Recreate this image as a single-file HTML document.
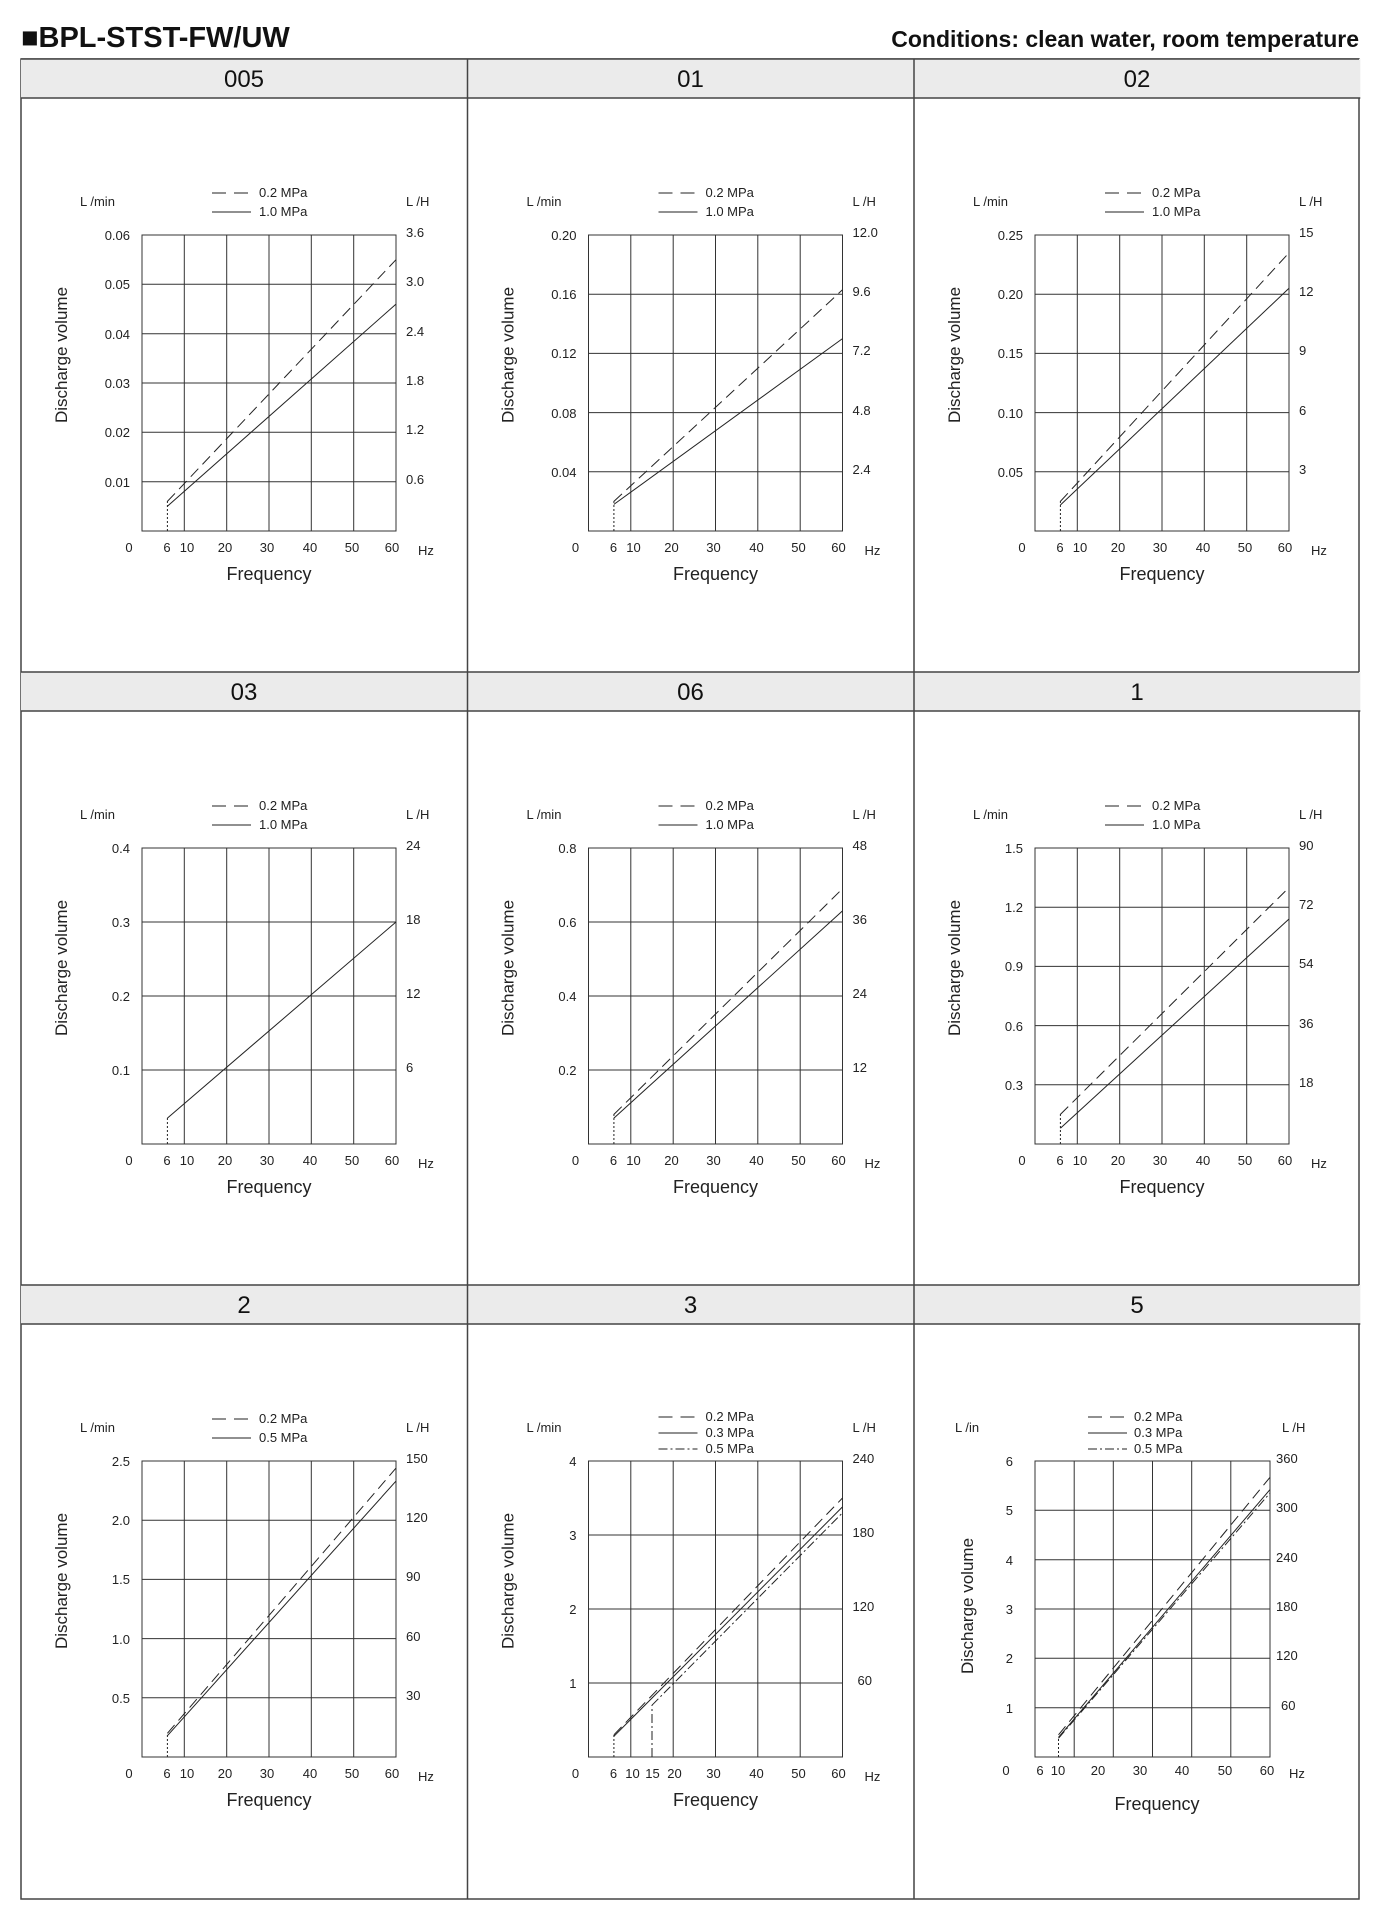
<!DOCTYPE html>
<html><head><meta charset="utf-8"><style>
html,body{margin:0;padding:0;background:#fff}
svg{display:block}
text{font-family:"Liberation Sans",Arial,sans-serif;fill:#222}
.t{font-size:13px}
.h{font-size:24px;text-anchor:middle;fill:#111}
.ax{font-size:18px;text-anchor:middle}
.dv{font-size:17px;text-anchor:middle}
.e{text-anchor:end}.m{text-anchor:middle}
.g{stroke:#333;stroke-width:1;fill:none}
.s{stroke:#222;stroke-width:1;fill:none}
.d{stroke:#222;stroke-width:1;fill:none;stroke-dasharray:11 6}
.dd{stroke:#222;stroke-width:1;fill:none;stroke-dasharray:9 3 2 3}
.v{stroke:#222;stroke-width:1;fill:none;stroke-dasharray:2 2}
</style></head><body>
<svg width="1386" height="1920" viewBox="0 0 1386 1920" xmlns="http://www.w3.org/2000/svg">
<text x="21" y="47" style="font-size:29px;font-weight:bold;fill:#111">■BPL-STST-FW/UW</text>
<text x="1359" y="47" style="font-size:23px;font-weight:bold;text-anchor:end;fill:#111">Conditions: clean water, room temperature</text>

<defs>
<g id="head">
<rect x="0" y="0" width="446.3" height="39" fill="#ebebeb"/>
<line x1="0" y1="39" x2="446.3" y2="39" stroke="#444" stroke-width="1.5"/>
</g>
<g id="plot">
<rect x="121" y="176" width="254" height="296" class="g"/>
<path class="g" d="M163.3 176V472M205.7 176V472M248 176V472M290.3 176V472M332.7 176V472"/>
<text class="t m" x="108" y="493">0</text>
<text class="t m" x="146" y="493">6</text>
<text class="t m" x="166" y="493">10</text>
<text class="t m" x="204" y="493">20</text>
<text class="t m" x="246" y="493">30</text>
<text class="t m" x="289" y="493">40</text>
<text class="t m" x="331" y="493">50</text>
<text class="t m" x="371" y="493">60</text>
<text class="t" x="397" y="496">Hz</text>
<text class="ax" x="248" y="521">Frequency</text>
<text class="dv" transform="translate(46,296) rotate(-90)">Discharge volume</text>
<text class="t" x="59" y="147">L /min</text>
<text class="t" x="385" y="147">L /H</text>
</g>
<g id="frame">
<use href="#head"/>
<use href="#plot"/>
<line x1="191" y1="134" x2="230" y2="134" class="d" style="stroke-dasharray:14 8"/>
<line x1="191" y1="153" x2="230" y2="153" class="s"/>
</g>
<g id="grid5"><path class="g" d="M121 235.2H375M121 294.4H375M121 353.6H375M121 412.8H375"/></g>
<g id="grid4"><path class="g" d="M121 250H375M121 324H375M121 398H375"/></g>
<g id="grid6"><path class="g" d="M121 225.3H375M121 274.7H375M121 324H375M121 373.3H375M121 422.7H375"/></g>
</defs>

<rect x="21" y="59" width="1338" height="1840" fill="none" stroke="#444" stroke-width="1.5"/>

<!-- 005 -->
<g transform="translate(21,59)">
<use href="#frame"/><use href="#grid6"/>
<text class="h" x="223" y="28">005</text>
<text class="t" x="238" y="138">0.2 MPa</text><text class="t" x="238" y="157">1.0 MPa</text>
<text class="t e" x="109" y="181">0.06</text><text class="t e" x="109" y="230">0.05</text><text class="t e" x="109" y="280">0.04</text><text class="t e" x="109" y="329">0.03</text><text class="t e" x="109" y="378">0.02</text><text class="t e" x="109" y="428">0.01</text>
<text class="t" x="385" y="178">3.6</text><text class="t" x="385" y="227">3.0</text><text class="t" x="385" y="277">2.4</text><text class="t" x="385" y="326">1.8</text><text class="t" x="385" y="375">1.2</text><text class="t" x="385" y="425">0.6</text>
<line class="v" x1="146.4" y1="472" x2="146.4" y2="442"/>
<line class="d" x1="146.4" y1="442.4" x2="375" y2="200.7"/>
<line class="s" x1="146.4" y1="447.3" x2="375" y2="245.1"/>
</g>

<!-- 01 -->
<g transform="translate(467.5,59)">
<use href="#frame"/><use href="#grid5"/>
<text class="h" x="223" y="28">01</text>
<text class="t" x="238" y="138">0.2 MPa</text><text class="t" x="238" y="157">1.0 MPa</text>
<text class="t e" x="109" y="181">0.20</text><text class="t e" x="109" y="240">0.16</text><text class="t e" x="109" y="299">0.12</text><text class="t e" x="109" y="359">0.08</text><text class="t e" x="109" y="418">0.04</text>
<text class="t" x="385" y="178">12.0</text><text class="t" x="385" y="237">9.6</text><text class="t" x="385" y="296">7.2</text><text class="t" x="385" y="356">4.8</text><text class="t" x="385" y="415">2.4</text>
<line class="v" x1="146.4" y1="472" x2="146.4" y2="442"/>
<line class="d" x1="146.4" y1="442.4" x2="375" y2="230.8"/>
<line class="s" x1="146.4" y1="445.4" x2="375" y2="279.6"/>
</g>

<!-- 02 -->
<g transform="translate(914,59)">
<use href="#frame"/><use href="#grid5"/>
<text class="h" x="223" y="28">02</text>
<text class="t" x="238" y="138">0.2 MPa</text><text class="t" x="238" y="157">1.0 MPa</text>
<text class="t e" x="109" y="181">0.25</text><text class="t e" x="109" y="240">0.20</text><text class="t e" x="109" y="299">0.15</text><text class="t e" x="109" y="359">0.10</text><text class="t e" x="109" y="418">0.05</text>
<text class="t" x="385" y="178">15</text><text class="t" x="385" y="237">12</text><text class="t" x="385" y="296">9</text><text class="t" x="385" y="356">6</text><text class="t" x="385" y="415">3</text>
<line class="v" x1="146.4" y1="472" x2="146.4" y2="442"/>
<line class="d" x1="146.4" y1="442.4" x2="375" y2="193.8"/>
<line class="s" x1="146.4" y1="446" x2="375" y2="229.3"/>
</g>

<!-- 03 -->
<g transform="translate(21,672)">
<use href="#frame"/><use href="#grid4"/>
<text class="h" x="223" y="28">03</text>
<text class="t" x="238" y="138">0.2 MPa</text><text class="t" x="238" y="157">1.0 MPa</text>
<text class="t e" x="109" y="181">0.4</text><text class="t e" x="109" y="255">0.3</text><text class="t e" x="109" y="329">0.2</text><text class="t e" x="109" y="403">0.1</text>
<text class="t" x="385" y="178">24</text><text class="t" x="385" y="252">18</text><text class="t" x="385" y="326">12</text><text class="t" x="385" y="400">6</text>
<line class="v" x1="146.4" y1="472" x2="146.4" y2="446"/>
<line class="s" x1="146.4" y1="446.1" x2="375" y2="250"/>
</g>

<!-- 06 -->
<g transform="translate(467.5,672)">
<use href="#frame"/><use href="#grid4"/>
<text class="h" x="223" y="28">06</text>
<text class="t" x="238" y="138">0.2 MPa</text><text class="t" x="238" y="157">1.0 MPa</text>
<text class="t e" x="109" y="181">0.8</text><text class="t e" x="109" y="255">0.6</text><text class="t e" x="109" y="329">0.4</text><text class="t e" x="109" y="403">0.2</text>
<text class="t" x="385" y="178">48</text><text class="t" x="385" y="252">36</text><text class="t" x="385" y="326">24</text><text class="t" x="385" y="400">12</text>
<line class="v" x1="146.4" y1="472" x2="146.4" y2="442"/>
<line class="d" x1="146.4" y1="442.4" x2="375" y2="216.7"/>
<line class="s" x1="146.4" y1="446.1" x2="375" y2="238.9"/>
</g>

<!-- 1 -->
<g transform="translate(914,672)">
<use href="#frame"/><use href="#grid5"/>
<text class="h" x="223" y="28">1</text>
<text class="t" x="238" y="138">0.2 MPa</text><text class="t" x="238" y="157">1.0 MPa</text>
<text class="t e" x="109" y="181">1.5</text><text class="t e" x="109" y="240">1.2</text><text class="t e" x="109" y="299">0.9</text><text class="t e" x="109" y="359">0.6</text><text class="t e" x="109" y="418">0.3</text>
<text class="t" x="385" y="178">90</text><text class="t" x="385" y="237">72</text><text class="t" x="385" y="296">54</text><text class="t" x="385" y="356">36</text><text class="t" x="385" y="415">18</text>
<line class="v" x1="146.4" y1="472" x2="146.4" y2="442"/>
<line class="d" x1="146.4" y1="442.4" x2="375" y2="215.5"/>
<line class="s" x1="146.4" y1="456.2" x2="375" y2="247"/>
</g>

<!-- 2 -->
<g transform="translate(21,1285)">
<use href="#frame"/><use href="#grid5"/>
<text class="h" x="223" y="28">2</text>
<text class="t" x="238" y="138">0.2 MPa</text><text class="t" x="238" y="157">0.5 MPa</text>
<text class="t e" x="109" y="181">2.5</text><text class="t e" x="109" y="240">2.0</text><text class="t e" x="109" y="299">1.5</text><text class="t e" x="109" y="359">1.0</text><text class="t e" x="109" y="418">0.5</text>
<text class="t" x="385" y="178">150</text><text class="t" x="385" y="237">120</text><text class="t" x="385" y="296">90</text><text class="t" x="385" y="356">60</text><text class="t" x="385" y="415">30</text>
<line class="v" x1="146.4" y1="472" x2="146.4" y2="448"/>
<line class="d" x1="146.4" y1="448.3" x2="375" y2="183.1"/>
<line class="s" x1="146.4" y1="450.7" x2="375" y2="196.1"/>
</g>

<!-- 3 -->
<g transform="translate(467.5,1285)">
<use href="#head"/>
<rect x="121" y="176" width="254" height="296" class="g"/>
<path class="g" d="M163.3 176V472M205.7 176V472M248 176V472M290.3 176V472M332.7 176V472"/>
<use href="#grid4"/>
<text class="h" x="223" y="28">3</text>
<text class="t m" x="108" y="493">0</text>
<text class="t m" x="146" y="493">6</text>
<text class="t m" x="165" y="493">10</text>
<text class="t m" x="185" y="493">15</text>
<text class="t m" x="207" y="493">20</text>
<text class="t m" x="246" y="493">30</text>
<text class="t m" x="289" y="493">40</text>
<text class="t m" x="331" y="493">50</text>
<text class="t m" x="371" y="493">60</text>
<text class="t" x="397" y="496">Hz</text>
<text class="ax" x="248" y="521">Frequency</text>
<text class="dv" transform="translate(46,296) rotate(-90)">Discharge volume</text>
<text class="t" x="59" y="147">L /min</text>
<text class="t" x="385" y="147">L /H</text>
<line x1="191" y1="132" x2="230" y2="132" class="d" style="stroke-dasharray:14 8"/>
<line x1="191" y1="148" x2="230" y2="148" class="s"/>
<line x1="191" y1="164" x2="230" y2="164" class="dd"/>
<text class="t" x="238" y="136">0.2 MPa</text><text class="t" x="238" y="152">0.3 MPa</text><text class="t" x="238" y="168">0.5 MPa</text>
<text class="t e" x="109" y="181">4</text><text class="t e" x="109" y="255">3</text><text class="t e" x="109" y="329">2</text><text class="t e" x="109" y="403">1</text>
<text class="t" x="385" y="178">240</text><text class="t" x="385" y="252">180</text><text class="t" x="385" y="326">120</text><text class="t" x="390" y="400">60</text>
<line class="v" x1="146.4" y1="472" x2="146.4" y2="450"/>
<line class="dd" x1="184.5" y1="472" x2="184.5" y2="420"/>
<line class="d" x1="146.4" y1="449.8" x2="375" y2="213"/>
<line class="s" x1="146.4" y1="451.3" x2="375" y2="221.9"/>
<line class="dd" x1="184.5" y1="420.2" x2="375" y2="227.8"/>
</g>

<!-- 5 -->
<g transform="translate(914,1285)">
<use href="#head"/>
<rect x="121" y="176" width="235" height="296" class="g"/>
<path class="g" d="M160.2 176V472M199.3 176V472M238.5 176V472M277.7 176V472M316.8 176V472"/>
<path class="g" d="M121 225.3H356M121 274.7H356M121 324H356M121 373.3H356M121 422.7H356"/>
<text class="h" x="223" y="28">5</text>
<text class="t m" x="92" y="490">0</text>
<text class="t m" x="126" y="490">6</text>
<text class="t m" x="144" y="490">10</text>
<text class="t m" x="184" y="490">20</text>
<text class="t m" x="226" y="490">30</text>
<text class="t m" x="268" y="490">40</text>
<text class="t m" x="311" y="490">50</text>
<text class="t m" x="353" y="490">60</text>
<text class="t" x="375" y="493">Hz</text>
<text class="ax" x="243" y="525">Frequency</text>
<text class="dv" transform="translate(59,321) rotate(-90)">Discharge volume</text>
<text class="t" x="41" y="147">L /in</text>
<text class="t" x="368" y="147">L /H</text>
<line x1="174" y1="132" x2="213" y2="132" class="d" style="stroke-dasharray:14 8"/>
<line x1="174" y1="148" x2="213" y2="148" class="s"/>
<line x1="174" y1="164" x2="213" y2="164" class="dd"/>
<text class="t" x="220" y="136">0.2 MPa</text><text class="t" x="220" y="152">0.3 MPa</text><text class="t" x="220" y="168">0.5 MPa</text>
<text class="t e" x="99" y="181">6</text><text class="t e" x="99" y="230">5</text><text class="t e" x="99" y="280">4</text><text class="t e" x="99" y="329">3</text><text class="t e" x="99" y="378">2</text><text class="t e" x="99" y="428">1</text>
<text class="t" x="362" y="178">360</text><text class="t" x="362" y="227">300</text><text class="t" x="362" y="277">240</text><text class="t" x="362" y="326">180</text><text class="t" x="362" y="375">120</text><text class="t" x="367" y="425">60</text>
<line class="v" x1="144.5" y1="472" x2="144.5" y2="452"/>
<line class="d" x1="144.5" y1="449.8" x2="356" y2="192.3"/>
<line class="s" x1="144.5" y1="452.3" x2="356" y2="204.6"/>
<line class="dd" x1="144.5" y1="453.3" x2="356" y2="208"/>
</g>

<path d="M467.5 59V1899M914 59V1899M21 672H1359M21 1285H1359" stroke="#444" stroke-width="1.5" fill="none"/>
<path d="M21 59H1359" stroke="#444" stroke-width="1.5"/>
</svg>
</body></html>
